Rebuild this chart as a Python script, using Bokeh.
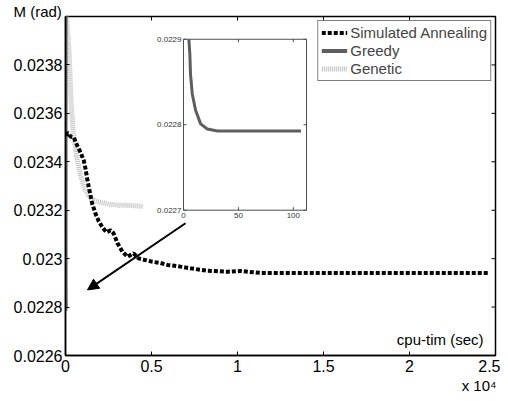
import math
from bokeh.plotting import figure
from bokeh.models import (Range1d, FixedTicker, PrintfTickFormatter, Label, Title,
                          Arrow, NormalHead, Legend, LegendItem)
from bokeh.embed import file_html
from bokeh.resources import INLINE
from bokeh.core.properties import value

# ---------------- data ----------------
# Simulated Annealing: cpu time (s), M (rad)
sa_x = [29, 116, 192, 291, 483, 680, 872, 1064, 1163, 1262, 1355, 1454, 1552, 1744,
        1936, 2151, 2384, 2616, 2791, 3023, 3314, 3605, 3954, 4244, 4651, 5058, 5523,
        5930, 6686, 7267, 8256, 9419, 10174, 11337, 24593]
sa_y = [0.023508, 0.023520, 0.023515, 0.023504, 0.023501, 0.023467, 0.023439, 0.023405,
        0.023371, 0.023330, 0.023295, 0.023261, 0.023227, 0.023186, 0.023154, 0.023129,
        0.023109, 0.023117, 0.023105, 0.023064, 0.023028, 0.023008, 0.023022, 0.023001,
        0.022994, 0.022987, 0.022982, 0.022974, 0.022967, 0.022960, 0.022950, 0.022946,
        0.022949, 0.022941, 0.022941]

# Greedy: cpu time (s), M (rad)
gr_x = [0.5, 2.5, 4.9, 5.8, 6.4, 8.0, 11.0, 15.6, 21.7, 30.9, 107]
gr_y = [0.02410, 0.02330, 0.022900, 0.022882, 0.022859, 0.022836, 0.022817, 0.022801,
        0.022795, 0.0227926, 0.0227926]

# Genetic: cpu time (s), M (rad)
ge_x = [40, 174, 233, 291, 349, 407, 465, 640, 872, 1105, 1337, 1628, 2035, 2616, 3198,
        3779, 4535]
ge_y = [0.024020, 0.023898, 0.023816, 0.023713, 0.023610, 0.023569, 0.023508, 0.023425,
        0.023343, 0.023290, 0.023257, 0.023241, 0.023232, 0.023224, 0.023220, 0.023220,
        0.023216]

x_tick_values = [0, 5000, 10000, 15000, 20000, 25000]
x_tick_labels = ["0", "0.5", "1", "1.5", "2", "2.5"]
y_tick_values = [0.0226, 0.0228, 0.0230, 0.0232, 0.0234, 0.0236, 0.0238]

inset_x_ticks = [0, 50, 100]
inset_x_labels = ["0", "50", "100"]
inset_y_ticks = [0.0227, 0.0228, 0.0229]
inset_y_labels = ["0.0227", "0.0228", "0.0229"]

# ---------------- layout constants ----------------
X_LIM = (0, 25000)
Y_LIM = (0.0226, 0.0240)
INSET_XLIM = (0, 112)
INSET_YLIM = (0.0227, 0.0229)
INSET_X_TARGET = (6860, 14012)
INSET_Y_TARGET = (0.0232, 0.023906)
ARROW_FROM = (6977, 0.023146)
ARROW_TO = (1279, 0.022871)

FONT = "Liberation Sans"
GREEDY_COLOR = "#5e5e5e"
GENETIC_COLOR = "#bdbdbd"

p = figure(width=500, height=393, output_backend="svg", toolbar_location=None,
           x_range=Range1d(*X_LIM), y_range=Range1d(*Y_LIM),
           min_border_left=65, min_border_right=5, min_border_top=16, min_border_bottom=37)
p.xgrid.visible = False
p.ygrid.visible = False
p.outline_line_color = "black"
p.outline_line_width = 1.5
p.outline_line_alpha = 1.0
p.background_fill_color = "white"
p.border_fill_color = "white"

# y-axis title at the top-left, x-axis multiplier at the bottom-right
p.title = Title(text="M (rad)", align="left", offset=-52, standoff=-6,
                text_font=FONT, text_font_size="15px", text_font_style="normal",
                text_color="black")
p.add_layout(Title(text="x 10\u2074", align="right", offset=-1, standoff=0,
                   text_font=FONT, text_font_size="15px", text_font_style="normal",
                   text_color="black"), "below")

xt = FixedTicker(ticks=x_tick_values, minor_ticks=[])
yt = FixedTicker(ticks=y_tick_values, minor_ticks=[])

for ax in (p.xaxis[0], p.yaxis[0]):
    ax.major_tick_in = 4
    ax.major_tick_out = 0
    ax.minor_tick_in = 0
    ax.minor_tick_out = 0
    ax.axis_line_color = "black"
    ax.axis_line_width = 1.5
    ax.major_tick_line_color = "black"
    ax.major_tick_line_width = 1
    ax.major_label_text_font = FONT
    ax.major_label_text_font_size = "16px"
    ax.major_label_text_color = "black"

p.xaxis.ticker = xt
p.xaxis.major_label_overrides = dict(zip(x_tick_values, x_tick_labels))
p.xaxis.major_label_standoff = 4
p.yaxis.ticker = yt
p.yaxis.formatter = PrintfTickFormatter(format="%.4g")
p.yaxis.major_label_standoff = 3

# mirrored inward ticks on the top and right edges of the frame
p.ray(x=x_tick_values, y=[Y_LIM[1]] * len(x_tick_values), length=4, length_units="screen",
      angle=-math.pi / 2, line_color="black", line_width=1)
p.ray(x=[X_LIM[1]] * len(y_tick_values), y=y_tick_values, length=4, length_units="screen",
      angle=math.pi, line_color="black", line_width=1)

# ---------------- main series ----------------
r_ge = p.line(ge_x, ge_y, line_color=GENETIC_COLOR, line_width=5, line_dash="1 1")
r_gr = p.line(gr_x, gr_y, line_color=GREEDY_COLOR, line_width=4)
r_sa = p.line(sa_x, sa_y, line_color="black", line_width=4, line_dash="4 2")

# ---------------- inset ----------------
sub = p.subplot(x_source=Range1d(*INSET_XLIM), y_source=Range1d(*INSET_YLIM),
                x_target=Range1d(*INSET_X_TARGET), y_target=Range1d(*INSET_Y_TARGET))
sub.quad(left=[INSET_XLIM[0]], right=[INSET_XLIM[1]], bottom=[INSET_YLIM[0]],
         top=[INSET_YLIM[1]], fill_color="white", line_color="#4d4d4d", line_width=1)
in_x = [x for x, y in zip(gr_x, gr_y) if y <= INSET_YLIM[1] + 1e-12]
in_y = [y for y in gr_y if y <= INSET_YLIM[1] + 1e-12]
sub.line(in_x, in_y, line_color=GREEDY_COLOR, line_width=3)

tick_col = "#4d4d4d"
sub.ray(x=[INSET_XLIM[0]] * len(inset_y_ticks), y=inset_y_ticks, length=3,
        length_units="screen", angle=0, line_color=tick_col, line_width=1)
sub.ray(x=[INSET_XLIM[1]] * len(inset_y_ticks), y=inset_y_ticks, length=3,
        length_units="screen", angle=math.pi, line_color=tick_col, line_width=1)
sub.ray(x=inset_x_ticks, y=[INSET_YLIM[0]] * len(inset_x_ticks), length=3,
        length_units="screen", angle=math.pi / 2, line_color=tick_col, line_width=1)
sub.ray(x=inset_x_ticks, y=[INSET_YLIM[1]] * len(inset_x_ticks), length=3,
        length_units="screen", angle=-math.pi / 2, line_color=tick_col, line_width=1)

sub.text(x=[INSET_XLIM[0]] * len(inset_y_ticks), y=inset_y_ticks, text=inset_y_labels,
         text_font=value(FONT), text_font_size=value("8px"), text_color="#333333",
         text_align="right", text_baseline="middle", x_offset=-2)
sub.text(x=inset_x_ticks, y=[INSET_YLIM[0]] * len(inset_x_ticks), text=inset_x_labels,
         text_font=value(FONT), text_font_size=value("8px"), text_color="#333333",
         text_align="center", text_baseline="top", y_offset=3)

# ---------------- arrow ----------------
p.add_layout(Arrow(x_start=ARROW_FROM[0], y_start=ARROW_FROM[1],
                   x_end=ARROW_TO[0], y_end=ARROW_TO[1], line_color="black", line_width=2,
                   end=NormalHead(size=11, fill_color="black", line_color="black")))

# ---------------- in-frame x label ----------------
p.add_layout(Label(x=X_LIM[1], y=Y_LIM[0], text="cpu-tim (sec)", x_offset=-12, y_offset=8,
                   text_align="right", text_baseline="bottom",
                   text_font=FONT, text_font_size="15px", text_color="black"))

# ---------------- legend ----------------
legend = Legend(items=[LegendItem(label="Simulated Annealing", renderers=[r_sa]),
                       LegendItem(label="Greedy", renderers=[r_gr]),
                       LegendItem(label="Genetic", renderers=[r_ge])],
                location="top_right", margin=4, padding=3, spacing=1,
                glyph_width=26, glyph_height=17, label_height=17, label_standoff=3,
                label_text_font=FONT, label_text_font_size="15px",
                border_line_color="black", border_line_width=1,
                background_fill_color="white", background_fill_alpha=1.0)
p.add_layout(legend)

open("out.html", "w").write(file_html(p, INLINE))
